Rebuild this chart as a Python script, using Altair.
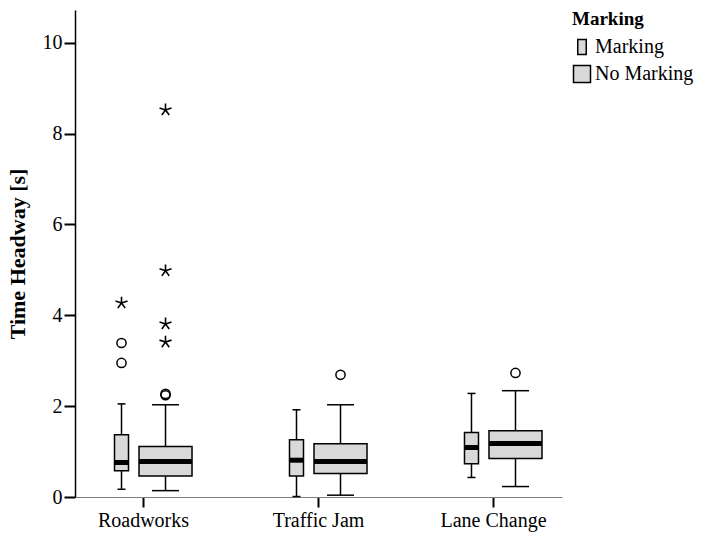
import altair as alt
import pandas as pd

categories = ["Roadworks", "Traffic Jam", "Lane Change"]
groups = ["Marking", "No Marking"]

# Box statistics (one entry per category x group)
box_cat = ["Roadworks", "Roadworks", "Traffic Jam", "Traffic Jam", "Lane Change", "Lane Change"]
box_group = ["Marking", "No Marking", "Marking", "No Marking", "Marking", "No Marking"]
whisker_low = [0.17, 0.14, 0.01, 0.04, 0.43, 0.23]
q1 = [0.58, 0.46, 0.46, 0.52, 0.73, 0.85]
median = [0.76, 0.78, 0.81, 0.78, 1.09, 1.18]
q3 = [1.37, 1.11, 1.26, 1.17, 1.42, 1.46]
whisker_high = [2.05, 2.03, 1.92, 2.03, 2.28, 2.34]

# Outliers
out_cat = ["Roadworks", "Roadworks", "Roadworks",
           "Roadworks", "Roadworks", "Roadworks", "Roadworks", "Roadworks", "Roadworks",
           "Traffic Jam", "Lane Change"]
out_group = ["Marking", "Marking", "Marking",
             "No Marking", "No Marking", "No Marking", "No Marking", "No Marking", "No Marking",
             "No Marking", "No Marking"]
out_value = [4.27, 3.39, 2.95,
             8.52, 4.98, 3.81, 3.41, 2.27, 2.24,
             2.69, 2.73]
out_kind = ["star", "circle", "circle",
            "star", "star", "star", "star", "circle", "circle",
            "circle", "circle"]

box_df = pd.DataFrame({"cat": box_cat, "group": box_group, "wlo": whisker_low,
                       "q1": q1, "med": median, "q3": q3, "whi": whisker_high})
out_df = pd.DataFrame({"cat": out_cat, "group": out_group, "value": out_value, "kind": out_kind})

FONT = "Liberation Serif"
GRAY = "#d9d9d9"
STAR = "M0,0L0,-1M0,0L0.951,-0.309M0,0L0.588,0.809M0,0L-0.588,0.809M0,0L-0.951,-0.309"
NARROW = "M-0.5,-0.88H0.5V0.88H-0.5Z"
SQUARE = "M-1,-1H1V1H-1Z"

box_width = {"Marking": 14, "No Marking": 53}
cap_width = {"Marking": 8, "No Marking": 27}

xscale = alt.Scale(domain=categories, paddingInner=0.497, paddingOuter=0.14)
xaxis = alt.Axis(title=None, labelFont=FONT, labelFontSize=20, labelColor="black",
                 tickSize=10, tickWidth=2, tickColor="black", labelPadding=3,
                 domainColor="#7f7f7f", domainWidth=1.2, labelAngle=0)
yscale = alt.Scale(domain=[0, 10.72], nice=False, zero=True)
yaxis = alt.Axis(title="Time Headway [s]", values=[0, 2, 4, 6, 8, 10], grid=False,
                 labelFont=FONT, labelFontSize=20, labelColor="black",
                 tickSize=11, tickWidth=2, tickColor="black", labelPadding=2,
                 domainColor="black", domainWidth=1.5,
                 titleFont=FONT, titleFontSize=22, titleFontWeight="bold",
                 titleColor="black", titlePadding=13)


def X():
    return alt.X("cat:N", scale=xscale, axis=xaxis, sort=categories)


def XO():
    return alt.XOffset("group:N", scale=alt.Scale(domain=groups, paddingInner=0, paddingOuter=0))


def Y(field):
    return alt.Y(f"{field}:Q", scale=yscale, axis=yaxis)


base = alt.Chart(box_df)

legend_layer = base.mark_point(filled=True, size=4, stroke="black", strokeWidth=1.5, opacity=1).encode(
    x=X(), xOffset=XO(), y=Y("med"),
    shape=alt.Shape("group:N", scale=alt.Scale(domain=groups, range=[NARROW, SQUARE]),
                    legend=alt.Legend(title="Marking")),
    color=alt.Color("group:N", scale=alt.Scale(domain=groups, range=[GRAY, GRAY]),
                    legend=alt.Legend(title="Marking")),
)

whisk_lo = base.mark_rule(color="black", strokeWidth=1.5).encode(
    x=X(), xOffset=XO(), y=Y("wlo"), y2="q1")
whisk_hi = base.mark_rule(color="black", strokeWidth=1.5).encode(
    x=X(), xOffset=XO(), y=Y("q3"), y2="whi")

layers = [legend_layer, whisk_lo, whisk_hi]
for g in groups:
    sub = base.transform_filter(alt.datum.group == g)
    layers.append(sub.mark_tick(orient="horizontal", color="black", thickness=1.5,
                                size=cap_width[g], opacity=1).encode(
        x=X(), xOffset=XO(), y=Y("wlo")))
    layers.append(sub.mark_tick(orient="horizontal", color="black", thickness=1.5,
                                size=cap_width[g], opacity=1).encode(
        x=X(), xOffset=XO(), y=Y("whi")))
    layers.append(sub.mark_bar(size=box_width[g], fill=GRAY, stroke="black",
                               strokeWidth=1.5).encode(
        x=X(), xOffset=XO(), y=Y("q1"), y2="q3"))
    layers.append(sub.mark_tick(orient="horizontal", color="black", thickness=5,
                                size=box_width[g], opacity=1).encode(
        x=X(), xOffset=XO(), y=Y("med")))

outs = alt.Chart(out_df)
layers.append(outs.transform_filter(alt.datum.kind == "circle").mark_point(
    shape="circle", size=85, filled=False, stroke="black", strokeWidth=1.5, opacity=1).encode(
    x=X(), xOffset=XO(), y=Y("value")))
layers.append(outs.transform_filter(alt.datum.kind == "star").mark_point(
    shape=STAR, size=160, filled=False, stroke="black", strokeWidth=1.6, opacity=1).encode(
    x=X(), xOffset=XO(), y=Y("value")))

chart = alt.layer(*layers).properties(
    width=487, height=487,
    background="white",
    autosize=alt.AutoSizeParams(type="none"),
    padding={"left": 75, "top": 10, "right": 142, "bottom": 36},
).configure_view(stroke=None).configure_legend(
    orient="right", offset=10, padding=0,
    titleFont=FONT, titleFontSize=19, titleFontWeight="bold", titleColor="black",
    titlePadding=8,
    labelFont=FONT, labelFontSize=20, labelColor="black", labelOffset=3,
    symbolSize=289, symbolStrokeColor="black", symbolStrokeWidth=1.5,
    symbolFillColor=GRAY, rowPadding=4,
)

chart.save("out.html", embed_options={"renderer": "svg", "actions": False})
